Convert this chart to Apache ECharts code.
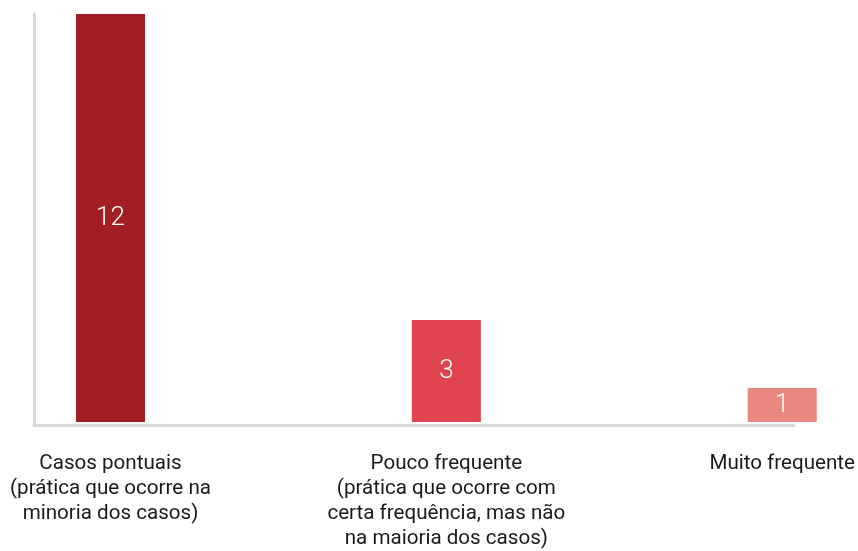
<!DOCTYPE html>
<html>
<head>
<meta charset="utf-8">
<script src="https://cdn.jsdelivr.net/npm/echarts@6/dist/echarts.min.js"></script>
<style>html,body{margin:0;padding:0;background:#fff}#c{width:858px;height:551px}</style>
</head>
<body>
<div id="c"></div>
<script>
const categories = [
  "Casos pontuais\n(prática que ocorre na\nminoria dos casos)",
  "Pouco frequente\n(prática que ocorre com\ncerta frequência, mas não\nna maioria dos casos)",
  "Muito frequente"
];
const values = [12, 3, 1];
const barColors = ["#A21E22", "#E0444E", "#E8887E"];

const chart = echarts.init(document.getElementById('c'), null, {renderer: 'canvas'});
chart.setOption({
  animation: false,
  backgroundColor: '#fff',
  grid: [
    {left: 110.5, right: 75.5, top: 14, bottom: 125.5},
    {left: 34, right: 64, top: 14, bottom: 125.5}
  ],
  xAxis: [
    {
      type: 'category', gridIndex: 0, data: categories, boundaryGap: false,
      axisLine: {show: false}, axisTick: {show: false},
      axisLabel: {
        margin: 29, color: '#1a1a1a', fontSize: 20.6, lineHeight: 25,
        fontFamily: 'Roboto', interval: 0, align: 'center'
      }
    },
    {
      type: 'category', gridIndex: 1, data: [],
      axisLine: {show: true, lineStyle: {color: '#d9d9d9', width: 3}},
      axisTick: {show: false}, axisLabel: {show: false}, z: 0
    }
  ],
  yAxis: [
    {
      type: 'value', gridIndex: 0, min: 0, max: 12,
      axisLine: {show: false}, axisTick: {show: false},
      axisLabel: {show: false}, splitLine: {show: false}
    },
    {
      type: 'value', gridIndex: 1, min: 0, max: 12,
      axisLine: {show: true, lineStyle: {color: '#d9d9d9', width: 3}},
      axisTick: {show: false}, axisLabel: {show: false}, splitLine: {show: false}, z: 0
    }
  ],
  series: [{
    type: 'bar', xAxisIndex: 0, yAxisIndex: 0, z: 5, clip: false,
    barWidth: 69,
    data: values.map((v, i) => ({value: v, itemStyle: {color: barColors[i]}})),
    label: {
      show: true, position: 'inside', color: '#fff',
      fontSize: 26, fontFamily: 'Roboto', fontWeight: 300
    }
  }]
});
</script>
</body>
</html>
